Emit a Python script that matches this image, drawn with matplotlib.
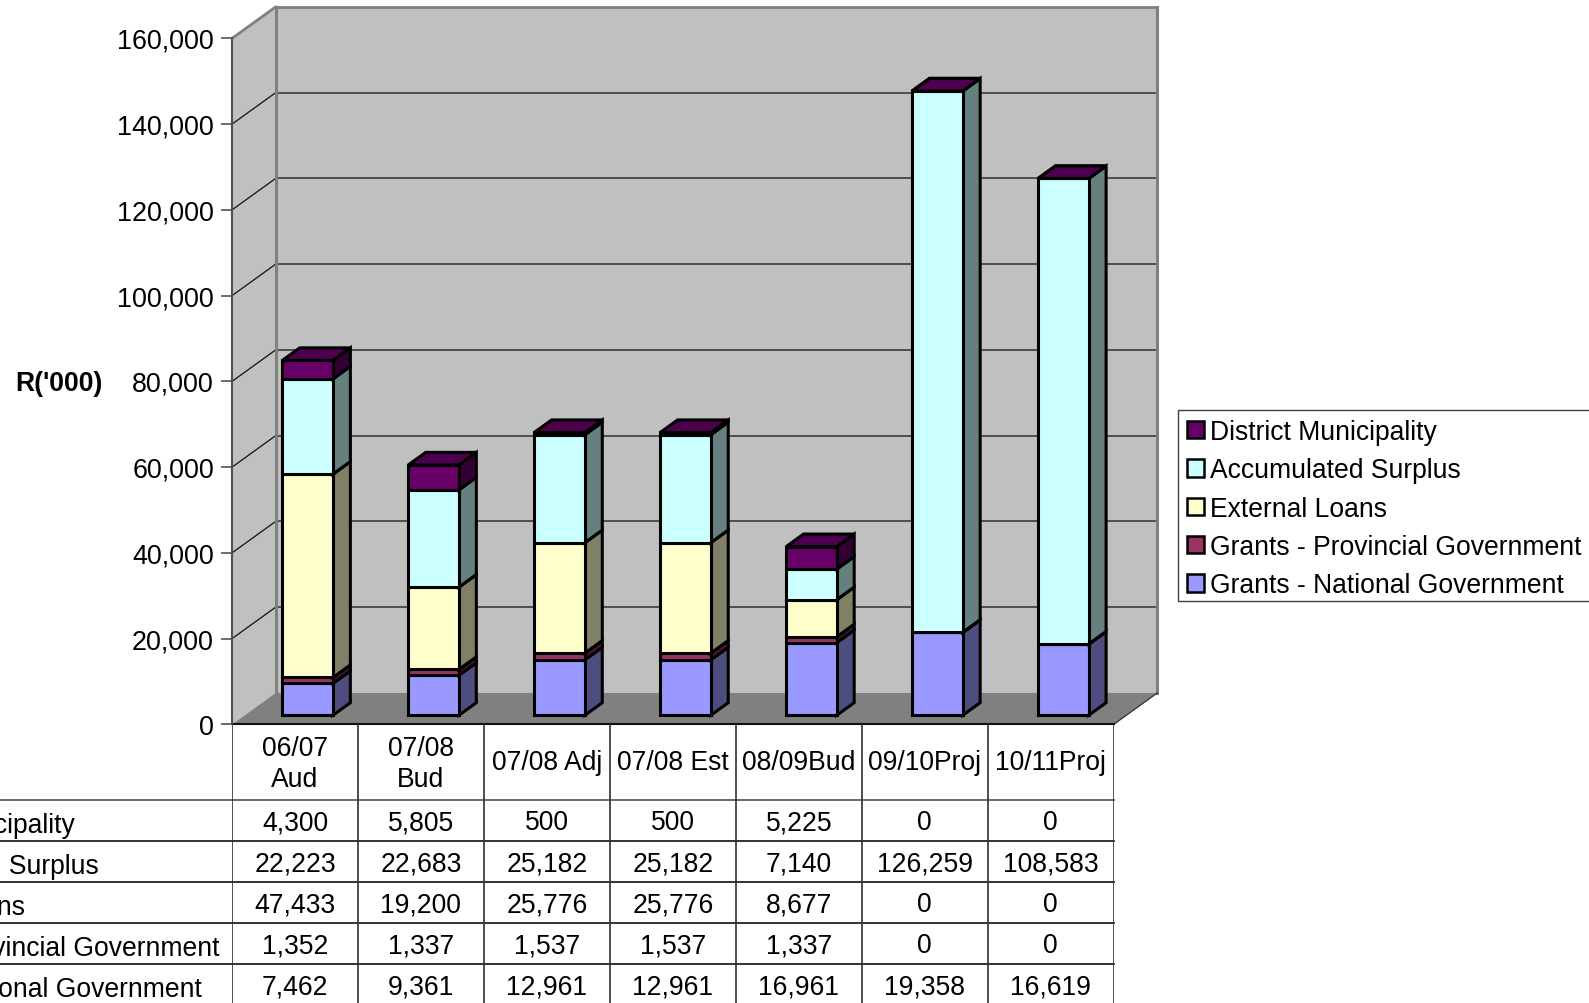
import matplotlib
matplotlib.use("Agg")
import matplotlib.pyplot as plt
from matplotlib.patches import Patch, Rectangle
from matplotlib.ticker import FuncFormatter
from matplotlib.transforms import ScaledTranslation

plt.rcParams["font.family"] = ["Liberation Sans", "DejaVu Sans"]

periods = ["06/07\nAud", "07/08\nBud", "07/08 Adj", "07/08 Est", "08/09Bud", "09/10Proj", "10/11Proj"]
national = [7462, 9361, 12961, 12961, 16961, 19358, 16619]
provincial = [1352, 1337, 1537, 1537, 1337, 0, 0]
loans = [47433, 19200, 25776, 25776, 8677, 0, 0]
surplus = [22223, 22683, 25182, 25182, 7140, 126259, 108583]
district = [4300, 5805, 500, 500, 5225, 0, 0]
y_ticks = [0, 20000, 40000, 60000, 80000, 100000, 120000, 140000, 160000]

# Stack order runs bottom to top: (name, values, front, side, top)
stack = [
    ("Grants - National Government", national, "#9999FF", "#4D4D80", "#737399"),
    ("Grants - Provincial Government", provincial, "#993366", "#4D1A33", "#732650"),
    ("External Loans", loans, "#FFFFCC", "#808066", "#BFBF99"),
    ("Accumulated Surplus", surplus, "#CCFFFF", "#668080", "#99BFBF"),
    ("District Municipality", district, "#660066", "#330033", "#4D004D"),
]

W, H = 1589, 1004
FS = 19.1
fig = plt.figure(figsize=(W / 100, H / 100), dpi=100, facecolor="white")


def px_axes(left, top, right, bottom):
    return fig.add_axes([left / W, 1 - bottom / H, (right - left) / W, (bottom - top) / H])


PLOT_L, PLOT_R, Y0, Y160 = 232.0, 1113.7, 725.4, 39.4
ax = px_axes(PLOT_L, Y160, PLOT_R, Y0)
ax.set_xlim(0, 7)
ax.set_ylim(0, 160000)
ax.patch.set_visible(False)

# Oblique projection of the chart box: depth 0 is the front plane, 1 the back wall
DEPTH_X = 0.346
DEPTH_Y = 7330


def proj(x, y, d):
    return x + d * DEPTH_X, y + d * DEPTH_Y


def face(points, color, z, edge=None, lw=0.0):
    xs, ys = zip(*[proj(*p) for p in points])
    ax.fill(xs, ys, facecolor=color, edgecolor=edge if edge else color, linewidth=lw,
            joinstyle="miter", clip_on=False, zorder=z)


def seg(p, q, color, lw, z):
    a, b = proj(*p), proj(*q)
    ax.plot([a[0], b[0]], [a[1], b[1]], color=color, lw=lw, clip_on=False,
            solid_capstyle="projecting", zorder=z)


WALL, EDGE = "#C0C0C0", "#808080"
YMAX = y_ticks[-1]
face([(0, 0, 1), (7, 0, 1), (7, YMAX, 1), (0, YMAX, 1)], WALL, 1)
face([(0, 0, 0), (0, 0, 1), (0, YMAX, 1), (0, YMAX, 0)], WALL, 1)
face([(0, 0, 0), (7, 0, 0), (7, 0, 1), (0, 0, 1)], EDGE, 1.1)

for v in y_ticks[1:-1]:
    seg((0, v, 1), (7, v, 1), "#303030", 1.1, 1.5)
    seg((0, v, 0), (0, v, 1), "#101010", 0.9, 1.5)

seg((0, 0, 1), (0, YMAX, 1), EDGE, 2.2, 1.7)
seg((0, YMAX, 1), (7, YMAX, 1), EDGE, 2.0, 1.7)
seg((7, YMAX, 1), (7, 0, 1), EDGE, 2.2, 1.7)
seg((0, YMAX, 0), (0, YMAX, 1), EDGE, 2.0, 1.7)
seg((7, 0, 0), (7, 0, 1), "#303030", 0.9, 1.7)
seg((0, 0, 0), (7, 0, 0), "#101010", 1.5, 1.8)

# Stacked prisms, bottom segment first so each one covers the cap below it
BAR_W = 0.402
D0, D1 = 0.29, 0.69
BAR_LW = 2.2
for i in range(len(periods)):
    x0 = i + 0.5 - BAR_W / 2
    x1 = x0 + BAR_W
    base = 0
    for _, values, front, side, top in stack:
        t = base + values[i]
        face([(x1, base, D0), (x1, base, D1), (x1, t, D1), (x1, t, D0)], side, 3, "black", BAR_LW)
        face([(x0, t, D0), (x1, t, D0), (x1, t, D1), (x0, t, D1)], top, 3, "black", BAR_LW)
        face([(x0, base, D0), (x1, base, D0), (x1, t, D0), (x0, t, D0)], front, 3, "black", BAR_LW)
        base = t

# Value axis
ax.set_xticks([])
ax.set_yticks(y_ticks)
ax.yaxis.set_major_formatter(FuncFormatter(lambda v, _: f"{int(v):,}"))
ax.tick_params(axis="y", length=8, width=1.3, color="#606060", pad=5, labelsize=19.4, labelcolor="black")
nudge = ScaledTranslation(0, 0.5 / 100, fig.dpi_scale_trans)
for tick_label in ax.get_yticklabels():
    tick_label.set_transform(tick_label.get_transform() + nudge)
for name, spine in ax.spines.items():
    spine.set_visible(name == "left")
ax.spines["left"].set_color("#505050")
ax.spines["left"].set_linewidth(1.5)
ax.spines["left"].set_zorder(2)
fig.text(15 * 1.0134 / W, 1 - 379 * 1.0134 / H, "R('000)", fontsize=FS, fontweight="bold",
         ha="left", va="center")

# Data table under the plot; its y axis is in figure pixels
tab = px_axes(PLOT_L, Y0, PLOT_R, H)
tab.set_xlim(0, 7)
tab.set_ylim(H, Y0)
tab.axis("off")

HEADER_BOTTOM = 800.6
ROW_H = 41.0
rows = [(name, vals) for name, vals, *_ in reversed(stack)]
LABEL_X = -384 / 125.95

for r in range(len(rows) + 1):
    y = HEADER_BOTTOM + r * ROW_H
    tab.plot([-2, 7], [y, y], color="#101010" if r else "#505050", lw=1.2, clip_on=False)
for c in range(len(periods) + 1):
    tab.plot([c, c], [Y0, H], color="#303030", lw=1.2)

for c, label in enumerate(periods):
    two_line = "\n" in label
    tab.text(c + 0.5, 787.2 if two_line else 770.5, label, ha="center", va="baseline",
             fontsize=FS, linespacing=1.27, multialignment="center")
for r, (name, vals) in enumerate(rows):
    top = HEADER_BOTTOM + r * ROW_H
    tab.text(LABEL_X, top + 32.2, name, ha="left", va="baseline", fontsize=FS, clip_on=False)
    for c, v in enumerate(vals):
        tab.text(c + 0.5, top + 29.5, f"{v:,}", ha="center", va="baseline", fontsize=FS)

# Legend box runs past the right edge of the figure
fig.add_artist(Rectangle((1177.5 / W, 1 - 602 / H), 500 / W, 191.5 / H, transform=fig.transFigure,
                         facecolor="white", edgecolor="#404040", linewidth=1.0, zorder=4))
handles = [Patch(facecolor=front, edgecolor="black", linewidth=1.8, label=name)
           for name, _, front, _, _ in reversed(stack)]
leg = fig.legend(handles=handles, loc="upper left",
                 bbox_to_anchor=(1177.5 / W, 1 - 410.5 / H), borderaxespad=0,
                 fontsize=FS, frameon=False, borderpad=0.36, labelspacing=0.465,
                 handlelength=0.64, handleheight=0.64, handletextpad=0.22)
leg.set_zorder(5)

fig.savefig("out.png", dpi=100, facecolor="white")
